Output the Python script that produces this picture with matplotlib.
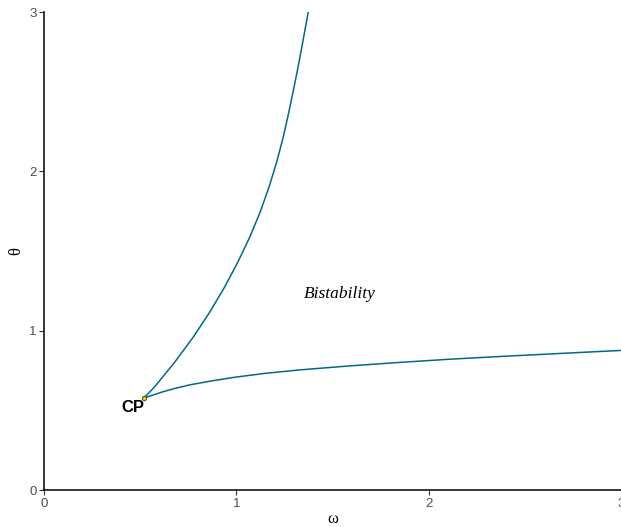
import matplotlib
matplotlib.use("Agg")
import matplotlib.pyplot as plt

# upper fold branch (omega, theta)
upper_w = [0.518, 0.574, 0.680, 0.776, 0.862, 0.939, 1.008, 1.070, 1.124, 1.170,
           1.210, 1.244, 1.273, 1.300, 1.326, 1.350, 1.374]
upper_t = [0.577, 0.646, 0.803, 0.960, 1.117, 1.274, 1.431, 1.588, 1.745, 1.902,
           2.059, 2.216, 2.372, 2.529, 2.686, 2.843, 3.000]

# lower fold branch
lower_w = [0.518, 0.562, 0.614, 0.681, 0.759, 0.863, 0.993, 1.149, 1.331, 1.591,
           1.851, 2.111, 2.371, 2.683, 3.000]
lower_t = [0.577, 0.594, 0.615, 0.638, 0.660, 0.683, 0.708, 0.732, 0.754, 0.779,
           0.801, 0.821, 0.838, 0.857, 0.876]

cusp_w, cusp_t = 0.518, 0.577

line_col = "#00688B"

fig = plt.figure(figsize=(6.21, 5.27), dpi=100)
ax = fig.add_axes([0.0709, 0.0702, 0.9291, 0.9070])

ax.plot(upper_w, upper_t, color=line_col, lw=1.1, solid_joinstyle="round")
ax.plot(lower_w, lower_t, color=line_col, lw=1.1, solid_joinstyle="round")
ax.scatter([cusp_w], [cusp_t], s=10, color="#F2C400", edgecolor="#333333", linewidths=0.6, zorder=5)

ax.text(0.463, 0.515, "CP", fontsize=12, fontweight="bold", ha="center", va="center",
        family="Liberation Sans")
ax.text(1.539, 1.230, "Bistability", fontsize=12.5, style="italic", ha="center", va="center",
        family="Liberation Serif")

ax.set_xlim(0, 3)
ax.set_ylim(0, 3)
ax.set_xticks([0, 1, 2, 3])
ax.set_yticks([0, 1, 2, 3])
ax.set_xticklabels(["0", "1", "2", "3"])
ax.set_yticklabels(["0", "1", "2", "3"])

for s in ["top", "right"]:
    ax.spines[s].set_visible(False)
for s in ["left", "bottom"]:
    ax.spines[s].set_linewidth(1.1)
    ax.spines[s].set_color("black")

ax.tick_params(axis="both", length=3.5, width=0.8, color="#333333", labelcolor="#4D4D4D",
               labelsize=9.5, pad=2)
for lab in ax.get_xticklabels() + ax.get_yticklabels():
    lab.set_family("Liberation Sans")

ax.set_xlabel("ω", fontsize=12, family="Liberation Serif", labelpad=1)
ax.set_ylabel("θ", fontsize=12, family="Liberation Serif", labelpad=3)

fig.savefig("out.png", dpi=100)
